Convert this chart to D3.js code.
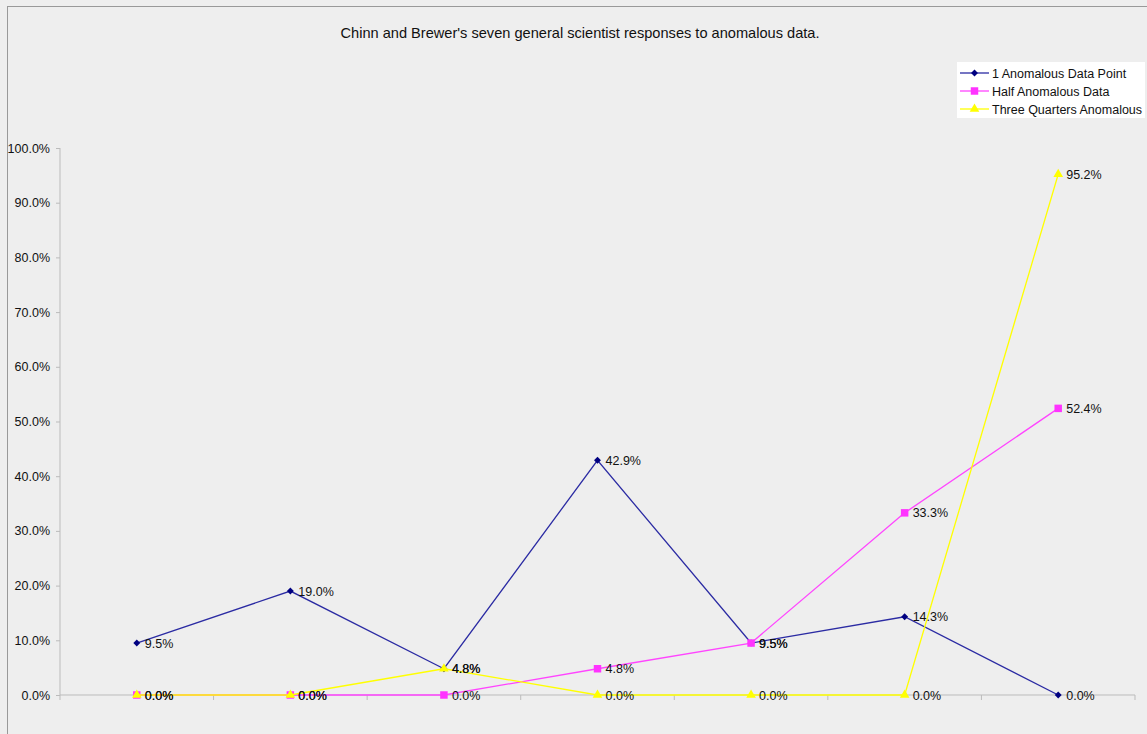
<!DOCTYPE html>
<html>
<head>
<meta charset="utf-8">
<script src="https://cdn.jsdelivr.net/npm/d3@7"></script>
<style>
  body { margin: 0; background: #eeeeee; }
  svg { display: block; font-family: "Liberation Sans", Arial, Helvetica, sans-serif; }
</style>
</head>
<body>
<div id="chart"></div>
<script>
// Chart data
var categories = ["1", "2", "3", "4", "5", "6", "7"];
var seriesNames = ["1 Anomalous Data Point", "Half Anomalous Data", "Three Quarters Anomalous"];
var onePoint = [9.5, 19.0, 4.8, 42.9, 9.5, 14.3, 0.0];
var halfData = [0.0, 0.0, 0.0, 4.8, 9.5, 33.3, 52.4];
var threeQuarters = [0.0, 0.0, 4.8, 0.0, 0.0, 0.0, 95.2];
var yTicks = [0, 10, 20, 30, 40, 50, 60, 70, 80, 90, 100];

var svgWidth = 1147;
var svgHeight = 734;

var margin = { top: 148, right: 12, bottom: 39, left: 60 };
var width = svgWidth - margin.left - margin.right;
var height = svgHeight - margin.top - margin.bottom;

var svg = d3.select("#chart")
    .append("svg")
    .attr("width", svgWidth)
    .attr("height", svgHeight);

// background + frame
svg.append("rect")
    .attr("x", 0).attr("y", 0)
    .attr("width", svgWidth).attr("height", svgHeight)
    .attr("fill", "#eeeeee");
svg.append("rect")
    .attr("x", 7.5).attr("y", 6.5)
    .attr("width", svgWidth + 10).attr("height", svgHeight + 10)
    .attr("fill", "none")
    .attr("stroke", "#999999")
    .attr("stroke-width", 1);

// title
svg.append("text")
    .attr("x", 580)
    .attr("y", 38)
    .attr("text-anchor", "middle")
    .attr("font-size", "14.6px")
    .attr("fill", "#111")
    .text("Chinn and Brewer's seven general scientist responses to anomalous data.");

var chartGroup = svg.append("g")
    .attr("transform", `translate(${margin.left}, ${margin.top})`);

var xScale = d3.scaleBand()
    .domain(categories)
    .range([0, width]);

var yScale = d3.scaleLinear()
    .domain([0, 100])
    .range([height, 0]);

// y axis
var leftAxis = d3.axisLeft(yScale)
    .tickValues(yTicks)
    .tickSize(4)
    .tickPadding(6)
    .tickFormat(d => d3.format(".1f")(d) + "%");

var yAxisG = chartGroup.append("g").call(leftAxis);
yAxisG.select(".domain").attr("stroke", "#bbbbbb").attr("d", `M0,${height}V0`);
yAxisG.selectAll(".tick line").attr("stroke", "#bbbbbb");
yAxisG.selectAll(".tick text")
    .attr("font-size", "12.5px")
    .attr("font-family", "Liberation Sans, Arial, sans-serif")
    .attr("fill", "#111");

// x axis with ticks at category boundaries
var xAxisG = chartGroup.append("g")
    .attr("transform", `translate(0, ${height})`);
xAxisG.append("line")
    .attr("x1", 0).attr("x2", width)
    .attr("y1", 0).attr("y2", 0)
    .attr("stroke", "#bbbbbb");
xAxisG.selectAll(".xtick")
    .data(categories.concat(["end"]))
    .enter()
    .append("line")
    .attr("class", "xtick")
    .attr("x1", (d, i) => i < categories.length ? xScale(d) : width)
    .attr("x2", (d, i) => i < categories.length ? xScale(d) : width)
    .attr("y1", 0).attr("y2", 5)
    .attr("stroke", "#bbbbbb");

var series = [
    { name: seriesNames[0], values: onePoint, line: "#2b2ba3", marker: "#000080", shape: d3.symbolSquare, size: 24, rot: 45 },
    { name: seriesNames[1], values: halfData, line: "#ff44ff", marker: "#ff33ff", shape: d3.symbolSquare, size: 56, rot: 0 },
    { name: seriesNames[2], values: threeQuarters, line: "#ffff00", marker: "#ffff00", shape: d3.symbolTriangle, size: 40, rot: 0 }
];

var cx = i => xScale(categories[i]) + xScale.bandwidth() / 2;

var lineGen = d3.line()
    .x((d, i) => cx(i))
    .y(d => yScale(d));

series.forEach(function(s) {
    chartGroup.append("path")
        .datum(s.values)
        .attr("fill", "none")
        .attr("stroke", s.line)
        .attr("stroke-width", 1.3)
        .attr("d", lineGen);

    chartGroup.selectAll(null)
        .data(s.values)
        .enter()
        .append("path")
        .attr("transform", (d, i) => `translate(${cx(i)}, ${yScale(d)}) rotate(${s.rot})`)
        .attr("d", d3.symbol().type(s.shape).size(s.size))
        .attr("fill", s.marker);
});

// data labels
series.forEach(function(s) {
    chartGroup.selectAll(null)
        .data(s.values)
        .enter()
        .append("text")
        .attr("x", (d, i) => cx(i) + 8)
        .attr("y", d => yScale(d) + 4.5)
        .attr("font-size", "12.5px")
        .attr("fill", "#111")
        .text(d => d3.format(".1f")(d) + "%");
});

// legend
var legend = svg.append("g")
    .attr("transform", "translate(957, 62)");
legend.append("rect")
    .attr("x", 0).attr("y", 0)
    .attr("width", 188).attr("height", 56)
    .attr("fill", "#ffffff");

var legendItems = legend.selectAll(".legend-item")
    .data(series)
    .enter()
    .append("g")
    .attr("class", "legend-item")
    .attr("transform", (d, i) => `translate(0, ${11 + i * 18})`);

legendItems.append("line")
    .attr("x1", 3).attr("x2", 32)
    .attr("y1", 0).attr("y2", 0)
    .attr("stroke", d => d.line)
    .attr("stroke-width", 1.3);
legendItems.append("path")
    .attr("transform", d => `translate(17.5, 0) rotate(${d.rot})`)
    .attr("d", d => d3.symbol().type(d.shape).size(d.size)())
    .attr("fill", d => d.marker);
legendItems.append("text")
    .attr("x", 35)
    .attr("y", 4.5)
    .attr("font-size", "12.5px")
    .attr("fill", "#111")
    .text(d => d.name);
</script>
</body>
</html>
